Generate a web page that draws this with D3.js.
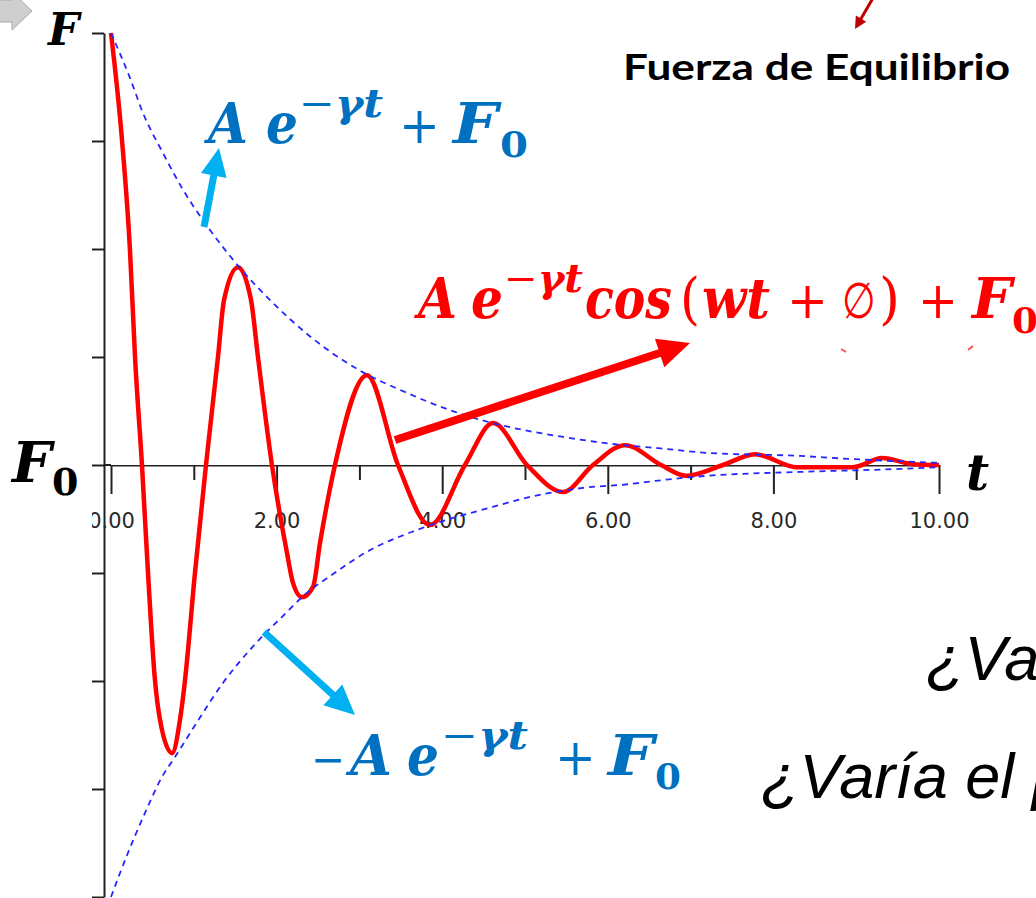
<!DOCTYPE html>
<html>
<head>
<meta charset="utf-8">
<script src="https://cdn.jsdelivr.net/npm/d3@7"></script>
<style>
  body { margin: 0; background: #fff; }
  svg { display: block; }
</style>
</head>
<body>
<div id="chart"></div>
<script>
// damped force curve (t, F relative to F0, A = 1)
var curveT = [0, 0.133, 0.229, 0.29, 0.374, 0.447, 0.531, 0.592, 0.737, 0.833, 0.894, 1.014, 1.147, 1.292, 1.365, 1.534, 1.691, 1.775, 1.944, 2.126, 2.198, 2.305, 2.44, 2.524, 2.705, 3.092, 3.466, 3.853, 4.275, 4.614, 5.024, 5.459, 5.821, 6.208, 6.643, 6.944, 7.391, 7.778, 8.285, 8.961, 9.312, 9.686, 10];
var curveF = [1, 0.752, 0.498, 0.25, 0, -0.25, -0.498, -0.59, -0.667, -0.59, -0.498, -0.25, 0, 0.25, 0.382, 0.458, 0.382, 0.25, 0, -0.204, -0.273, -0.306, -0.282, -0.181, 0, 0.208, 0, -0.139, 0, 0.097, 0, -0.0625, 0, 0.046, 0, -0.025, 0, 0.025, -0.005, -0.005, 0.016, 0.002, 0];

// envelopes
var upperT = [0, 0.229, 0.386, 0.628, 0.87, 1.196, 1.558, 1.957, 2.428, 3.04, 3.49, 4.155, 4.61, 5.46, 6.18, 6.61, 7.2, 8.32, 8.93, 10];
var upperF = [1, 0.896, 0.815, 0.722, 0.637, 0.544, 0.456, 0.375, 0.294, 0.215, 0.174, 0.123, 0.097, 0.065, 0.046, 0.039, 0.028, 0.021, 0.014, 0.005];
var lowerT = [0, 0.2, 0.4, 0.616, 0.773, 1.04, 1.35, 1.71, 2.126, 2.305, 2.7, 3.09, 3.7, 4.61, 5.06, 5.7, 6.27, 6.61, 7.2, 8.32, 9.53, 10];
var lowerF = [-1, -0.9, -0.81, -0.722, -0.676, -0.595, -0.505, -0.421, -0.34, -0.306, -0.25, -0.201, -0.15, -0.097, -0.074, -0.053, -0.044, -0.036, -0.025, -0.016, -0.009, -0.005];

var majorTicks = [0, 2, 4, 6, 8, 10];
var majorLabels = ["0.00", "2.00", "4.00", "6.00", "8.00", "10.00"];
var minorTicks = [1, 3, 5, 7, 9];
var yTicks = [-1, -0.75, -0.5, -0.25, 0, 0.25, 0.5, 0.75, 1];

var W = 1036, H = 898;
var svg = d3.select("#chart").append("svg")
	.attr("width", W)
	.attr("height", H);
svg.append("rect").attr("width", W).attr("height", H).attr("fill", "#fff");

var x = d3.scaleLinear().domain([0, 10]).range([111, 939]),
	y = d3.scaleLinear().domain([-1, 1]).range([897, 33]);

svg.append("clipPath").attr("id", "lblclip")
  .append("rect").attr("x", 92).attr("y", 0).attr("width", W).attr("height", H);

// y axis
svg.append("g")
	.attr("transform", "translate(104,0)")
	.call(d3.axisLeft(y).tickValues(yTicks).tickSize(12).tickSizeOuter(0).tickFormat(""))
	.call(function(g) { g.selectAll("path, line").attr("stroke", "#222").attr("stroke-width", 2); });

// x axis, major ticks with labels
var xg = svg.append("g")
	.attr("transform", "translate(0," + y(0) + ")")
	.attr("clip-path", "url(#lblclip)")
	.call(d3.axisBottom(x).tickValues(majorTicks).tickSize(29).tickSizeOuter(0)
		.tickFormat(function(d, i) { return majorLabels[i]; }));
xg.selectAll("path, line").attr("stroke", "#222").attr("stroke-width", 2);
xg.selectAll("text")
	.attr("y", 63).attr("dy", 0)
	.attr("font-family", "DejaVu Sans")
	.attr("font-size", "21px")
	.attr("fill", "#2a2a2a");

svg.append("g")
	.attr("transform", "translate(0," + y(0) + ")")
	.call(d3.axisBottom(x).tickValues(minorTicks).tickSize(15).tickSizeOuter(0).tickFormat(""))
	.call(function(g) {
		g.select("path").remove();
		g.selectAll("line").attr("stroke", "#222").attr("stroke-width", 2);
	});
// short joint between the two axes
svg.append("line")
	.attr("x1", 104).attr("x2", x(0))
	.attr("y1", y(0)).attr("y2", y(0))
	.attr("stroke", "#222").attr("stroke-width", 2);

var line = d3.line()
	.x(function(d) { return x(d[0]); })
	.y(function(d) { return y(d[1]); })
	.curve(d3.curveMonotoneX);

svg.append("path")
	.datum(d3.zip(curveT, curveF))
	.attr("d", line)
	.attr("fill", "none")
	.attr("stroke", "#ff0000")
	.attr("stroke-width", 4.5)
	.attr("stroke-linejoin", "round");

[d3.zip(upperT, upperF), d3.zip(lowerT, lowerF)].forEach(function(env) {
	svg.append("path")
		.datum(env)
		.attr("d", line)
		.attr("fill", "none")
		.attr("stroke", "#2626ff")
		.attr("stroke-width", 1.8)
		.attr("stroke-dasharray", "6,5");
});

// arrows
function arrow(x1, y1, x2, y2, color, w, hl, hw) {
	var a = Math.atan2(y2 - y1, x2 - x1), c = Math.cos(a), s = Math.sin(a);
	var bx = x2 - hl * c, by = y2 - hl * s;
	svg.append("line")
		.attr("x1", x1).attr("y1", y1).attr("x2", bx + c).attr("y2", by + s)
		.attr("stroke", color).attr("stroke-width", w);
	svg.append("polygon")
		.attr("points", [[x2, y2], [bx - hw / 2 * s, by + hw / 2 * c], [bx + hw / 2 * s, by - hw / 2 * c]].join(" "))
		.attr("fill", color);
}
arrow(204, 227, 219, 148, "#00b0f0", 7, 28, 26);
arrow(264, 632, 355, 715, "#00b0f0", 7, 30, 28);
arrow(395, 440, 690, 343, "#ff0000", 8, 32, 30);
arrow(873, -2, 855, 29, "#c00000", 3, 12, 12);

// grey block arrow in the corner
svg.append("polygon")
	.attr("points", "-2,0 12,0 12,-8 32,11 12,30 12,22 -2,22")
	.attr("fill", "#cfcfcf").attr("stroke", "#a9a9a9").attr("stroke-width", 1);

// tiny red marks
svg.append("line").attr("x1", 841).attr("y1", 349).attr("x2", 846).attr("y2", 352).attr("stroke", "#ff5050").attr("stroke-width", 2);
svg.append("line").attr("x1", 968).attr("y1", 350).attr("x2", 973).attr("y2", 346).attr("stroke", "#ff5050").attr("stroke-width", 2);

// texts
var serif = "DejaVu Serif";
function piece(t, px, py, size, color, opts) {
	opts = opts || {};
	var el = svg.append("text")
		.attr("x", px).attr("y", py)
		.attr("font-family", opts.family || serif)
		.attr("font-size", size + "px")
		.attr("font-style", opts.style || "italic")
		.attr("font-weight", opts.weight || "bold")
		.attr("fill", color)
		.text(t);
	if (opts.len) el.attr("textLength", opts.len).attr("lengthAdjust", "spacingAndGlyphs");
	return el;
}
function up(t, px, py, size, color, len) {
	return piece(t, px, py, size, color, { style: "normal", weight: "normal", len: len });
}
function sup(px, py, size, color, len) {
	var s = svg.append("text")
		.attr("x", px).attr("y", py)
		.attr("font-family", serif)
		.attr("font-size", size + "px")
		.attr("fill", color)
		.attr("textLength", len)
		.attr("lengthAdjust", "spacingAndGlyphs");
	s.append("tspan").attr("font-weight", "normal").text("\u2212");
	s.append("tspan").attr("font-weight", "bold").attr("font-style", "italic").text("\u03b3t");
}

piece("F", 48, 45, 44, "#000");
piece("F", 12, 482, 56, "#000");
piece("0", 52, 495, 38, "#000", { style: "normal" });
piece("t", 966, 490, 50, "#000");

var blue = "#0070c0";
piece("A", 208, 143, 56, blue, { len: 40 });
piece("e", 266, 143, 56, blue, { len: 32 });
sup(299, 117, 40, blue, 84);
up("+", 399, 143, 50, blue, 41);
piece("F", 453, 143, 56, blue, { len: 45 });
piece("0", 500, 157, 36, blue, { style: "normal", len: 28 });

up("\u2212", 311, 775, 46, blue, 34);
piece("A", 350, 775, 56, blue, { len: 42 });
piece("e", 407, 775, 56, blue, { len: 32 });
sup(441, 749, 40, blue, 87);
up("+", 555, 775, 50, blue, 41);
piece("F", 608, 775, 56, blue, { len: 46 });
piece("0", 655, 789, 36, blue, { style: "normal", len: 26 });

var red = "#ff0000";
piece("A", 418, 318, 56, red, { len: 39 });
piece("e", 471, 318, 56, red, { len: 32 });
sup(504, 292, 40, red, 79);
piece("cos", 585, 318, 56, red, { len: 87 });
up("(", 680, 318, 56, red, 20);
piece("wt", 702, 318, 56, red, { len: 68 });
up("+", 787, 318, 50, red, 41);
up("\u2205", 842, 318, 50, red, 34);
up(")", 879, 318, 56, red, 21);
up("+", 918, 318, 50, red, 40);
piece("F", 972, 318, 56, red, { len: 40 });
piece("0", 1012, 333, 36, red, { style: "normal", len: 26 });

svg.append("text")
	.attr("x", 623).attr("y", 80)
	.attr("font-family", "Lato")
	.attr("font-weight", "bold")
	.attr("font-size", "37px")
	.attr("textLength", 387)
	.attr("lengthAdjust", "spacingAndGlyphs")
	.attr("fill", "#000")
	.text("Fuerza de Equilibrio");

svg.append("text")
	.attr("x", 926).attr("y", 680)
	.attr("font-family", "Liberation Sans")
	.attr("font-style", "italic")
	.attr("font-size", "63px")
	.attr("fill", "#000")
	.text("\u00bfVa");
svg.append("text")
	.attr("x", 761).attr("y", 798)
	.attr("font-family", "Liberation Sans")
	.attr("font-style", "italic")
	.attr("font-size", "63px")
	.attr("fill", "#000")
	.text("\u00bfVar\u00eda el p");
</script>
</body>
</html>
